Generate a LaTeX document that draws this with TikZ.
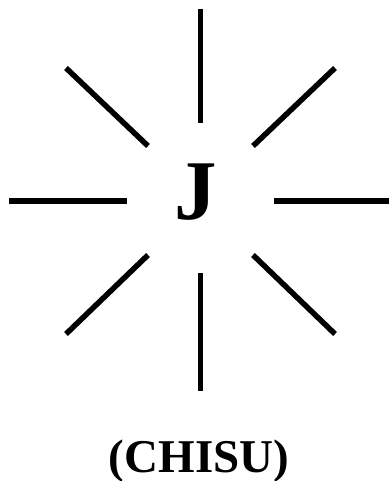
\documentclass[tikz,border=0pt]{standalone}
\usepackage{fontspec}
\setmainfont{Liberation Serif}
\begin{document}
\begin{tikzpicture}[x=1pt,y=-1pt,ray/.style={line width=5.5pt,black}]
\useasboundingbox (0,0) rectangle (391,481);
\draw[ray] (200.5,9) -- (200.5,123);
\draw[ray] (200.5,273) -- (200.5,391);
\draw[ray] (9,201) -- (127,201);
\draw[ray] (274,201) -- (389,201);
\draw[ray] (66,68) -- (148,146);
\draw[ray] (335,68) -- (253,146);
\draw[ray] (148,255) -- (66,334);
\draw[ray] (253,255) -- (335,334);
\node[anchor=base,inner sep=0pt,font=\bfseries\fontsize{85}{85}\selectfont] (j) at (196,219) {J};
\node[anchor=base,inner sep=0pt,font=\bfseries\fontsize{47}{47}\selectfont] (c) at (199,472) {(CHISU)};
\end{tikzpicture}
\end{document}
